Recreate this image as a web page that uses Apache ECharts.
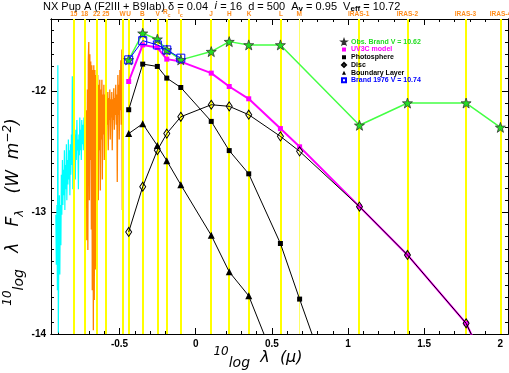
<!DOCTYPE html>
<html>
<head>
<meta charset="utf-8">
<script src="https://cdn.jsdelivr.net/npm/echarts@6/dist/echarts.min.js"></script>
<style>
html, body { margin: 0; padding: 0; background: #fff; }
#chart { width: 509px; height: 373px; }
</style>
</head>
<body>
<div id="chart"></div>
<script>
// filter bands, log10 of wavelength in micron
const bandNames = ['15', '18', '22', '25', 'W', 'U', 'B', 'V', 'Rc', 'Ic', 'J', 'H', 'K', 'L', 'M', 'IRAS-1', 'IRAS-2', 'IRAS-3', 'IRAS-4'];
const bandLogLam = [-0.80, -0.735, -0.645, -0.595, -0.48, -0.44, -0.348, -0.252, -0.19, -0.098, 0.102, 0.22, 0.348, 0.556, 0.682, 1.075, 1.39, 1.775, 2.0];

// SED points (log lambda F_lambda, W m-2), one per band below
const sedBands = ['U', 'B', 'V', 'Rc', 'Ic', 'J', 'H', 'K', 'L', 'M', 'IRAS-1', 'IRAS-2', 'IRAS-3', 'IRAS-4'];
const obsBrand = [-11.746, -11.527, -11.576, -11.664, -11.746, -11.678, -11.596, -11.623, -11.623, null, -12.284, -12.101, -12.101, -12.301];
const uv3cModel = [-11.924, -11.623, -11.645, -11.740, -11.760, -11.855, -11.965, -12.066, -12.311, -12.461, -12.953, -13.350, -13.912, -14.51];
const photosphere = [-12.156, -11.781, -11.800, -11.896, -11.973, -12.252, -12.492, -12.683, -13.256, -13.713, -15.1];
const disc = [-13.161, -12.789, -12.489, -12.352, -12.214, -12.115, -12.128, -12.197, -12.375, -12.498, -12.953, -13.350, -13.912, -14.51];
const boundaryLayer = [-12.352, -12.271, -12.451, -12.575, -12.773, -13.189, -13.489, -13.686, -14.34];
const brand1976 = [-11.746, -11.588, -11.623, -11.664, -11.732];

// IUE spectra [log lambda, log lambda F_lambda]
const iueShort = [
  [-0.918, -13.02], [-0.915, -13.43], [-0.911, -12.94], [-0.908, -13.64], [-0.905, -11.79], [-0.902, -13.99],
  [-0.898, -13.23], [-0.895, -12.86], [-0.892, -13.51], [-0.889, -12.94], [-0.885, -13.27], [-0.882, -12.69],
  [-0.879, -13.02], [-0.875, -12.57], [-0.872, -12.94], [-0.869, -12.65], [-0.866, -12.86], [-0.862, -12.49],
  [-0.859, -12.98], [-0.856, -12.61], [-0.852, -12.81], [-0.849, -12.44], [-0.846, -12.90], [-0.843, -12.57],
  [-0.839, -12.77], [-0.836, -12.40], [-0.833, -12.73], [-0.830, -12.49], [-0.826, -12.86], [-0.823, -12.44],
  [-0.820, -12.69], [-0.816, -12.36], [-0.813, -12.61], [-0.810, -11.88], [-0.807, -12.81], [-0.803, -12.49],
  [-0.800, -12.28], [-0.797, -12.65], [-0.793, -12.36], [-0.790, -12.73], [-0.787, -12.32], [-0.784, -12.57],
  [-0.780, -12.24], [-0.777, -12.49], [-0.774, -12.40], [-0.770, -12.81], [-0.767, -12.36], [-0.764, -12.53],
  [-0.761, -12.22], [-0.757, -12.49], [-0.754, -12.32], [-0.751, -12.57], [-0.748, -12.24], [-0.744, -12.44],
  [-0.741, -12.28], [-0.738, -12.49], [-0.734, -12.22], [-0.731, -12.40], [-0.728, -12.28], [-0.725, -12.53],
  [-0.721, -12.26], [-0.718, -12.40], [-0.715, -12.22], [-0.711, -12.36], [-0.708, -12.30], [-0.705, -12.40]
];
const iueLong = [
  [-0.728, -12.73], [-0.725, -12.32], [-0.721, -12.90], [-0.718, -12.16], [-0.715, -13.23], [-0.711, -11.99],
  [-0.708, -13.31], [-0.705, -11.75], [-0.702, -11.60], [-0.698, -12.90], [-0.695, -11.70], [-0.692, -12.57],
  [-0.689, -11.76], [-0.685, -13.14], [-0.682, -11.79], [-0.679, -13.64], [-0.675, -11.83], [-0.672, -13.97],
  [-0.669, -11.79], [-0.666, -13.72], [-0.662, -11.83], [-0.659, -13.47], [-0.656, -11.87], [-0.652, -12.82],
  [-0.649, -11.91], [-0.646, -12.65], [-0.643, -11.87], [-0.639, -12.90], [-0.636, -11.95], [-0.633, -12.49],
  [-0.630, -11.91], [-0.626, -12.82], [-0.623, -11.99], [-0.620, -12.40], [-0.616, -11.91], [-0.613, -12.73],
  [-0.610, -12.03], [-0.607, -12.36], [-0.603, -11.95], [-0.600, -12.57], [-0.597, -12.03], [-0.593, -12.32],
  [-0.590, -11.98], [-0.587, -12.61], [-0.584, -12.07], [-0.580, -12.28], [-0.577, -12.01], [-0.574, -12.49],
  [-0.570, -12.06], [-0.567, -12.24], [-0.564, -11.99], [-0.561, -12.40], [-0.557, -12.07], [-0.554, -12.22],
  [-0.551, -12.01], [-0.548, -12.49], [-0.544, -12.07], [-0.541, -12.24], [-0.538, -11.98], [-0.534, -12.32],
  [-0.531, -12.06], [-0.528, -12.20], [-0.525, -11.95], [-0.521, -12.28], [-0.518, -12.03], [-0.515, -12.75],
  [-0.511, -11.87], [-0.508, -12.20], [-0.505, -11.95], [-0.502, -12.40], [-0.498, -11.83], [-0.495, -12.16],
  [-0.492, -11.75], [-0.489, -12.28], [-0.485, -11.66], [-0.482, -12.98], [-0.479, -12.24]
];

// axis ticks
const xMajorTicks = [-0.5, 0, 0.5, 1, 1.5, 2];
const xMinorTicks = [-0.9, -0.8, -0.7, -0.6, -0.5, -0.4, -0.3, -0.2, -0.1, 0, 0.1, 0.2, 0.3, 0.4, 0.5, 0.6, 0.7, 0.8, 0.9, 1,
  1.1, 1.2, 1.3, 1.4, 1.5, 1.6, 1.7, 1.8, 1.9, 2];
const yMajorTicks = [-14, -13, -12];
const yMinorTicks = [-14, -13.9, -13.8, -13.7, -13.6, -13.5, -13.4, -13.3, -13.2, -13.1, -13, -12.9, -12.8, -12.7, -12.6,
  -12.5, -12.4, -12.3, -12.2, -12.1, -12, -11.9, -11.8, -11.7, -11.6, -11.5];

const STAR = 'path://M0,-10 L2.35,-3.24 L9.51,-3.09 L3.8,1.24 L5.88,8.09 L0,4 L-5.88,8.09 L-3.8,1.24 L-9.51,-3.09 L-2.35,-3.24 Z';
const TICK_FONT = 'Liberation Sans';
const NAME_FONT = 'DejaVu Sans';

const sed = vals => vals.map((v, i) => [bandLogLam[bandNames.indexOf(sedBands[i])], v]).filter(p => p[1] !== null);

const xAxisOf = (pos, ticks, len, labels) => ({
    type: 'value', position: pos, min: -0.95, max: 2.05,
    axisLine: { show: true, onZero: false, lineStyle: { color: '#000', width: 1 } },
    axisTick: { show: true, inside: true, length: len, customValues: ticks, lineStyle: { color: '#000' } },
    axisLabel: labels ? {
        show: true, customValues: labels, margin: 5, color: '#000',
        fontFamily: TICK_FONT, fontWeight: 'bold', fontSize: 10
    } : { show: false },
    splitLine: { show: false }
});
const yAxisOf = (pos, ticks, len, labels) => ({
    type: 'value', position: pos, min: -14, max: -11.41,
    axisLine: { show: true, onZero: false, lineStyle: { color: '#000', width: 1 } },
    axisTick: { show: true, inside: true, length: len, customValues: ticks, lineStyle: { color: '#000' } },
    axisLabel: labels ? {
        show: true, customValues: labels, margin: 5, color: '#000',
        fontFamily: TICK_FONT, fontWeight: 'bold', fontSize: 10
    } : { show: false },
    splitLine: { show: false }
});

const bandLines = bandNames.map((n, i) => {
    const sub = n === 'Rc' || n === 'Ic';
    return {
        xAxis: bandLogLam[i],
        name: n,
        lineStyle: n === 'M' ? { width: 1, color: '#ffff66' } : {},
        label: { formatter: sub ? n[0] + '{s|c}' : n }
    };
});

const nameRich = {
    s: { fontFamily: NAME_FONT, fontStyle: 'italic', fontSize: 12, lineHeight: 24, verticalAlign: 'top' },
    l: { fontFamily: NAME_FONT, fontStyle: 'italic', fontSize: 14, lineHeight: 24, verticalAlign: 'bottom' },
    b: { fontFamily: NAME_FONT, fontStyle: 'italic', fontSize: 12, lineHeight: 24, verticalAlign: 'bottom' }
};

const chart = echarts.init(document.getElementById('chart'));
const option = {
    animation: false,
    backgroundColor: '#fff',
    title: {
        left: 43, top: 0, padding: 0,
        text: 'NX Pup A (F2III + B9Iab) δ = 0.04  {i|i} = 16  d = 500  A{s|v} = 0.95  V{s|eff} = 10.72',
        textStyle: {
            fontFamily: TICK_FONT, fontSize: 11, fontWeight: 'normal', color: '#000', lineHeight: 13,
            rich: {
                i: { fontFamily: NAME_FONT, fontStyle: 'italic', fontSize: 11, lineHeight: 13 },
                s: { fontSize: 8, fontWeight: 'bold', lineHeight: 8, verticalAlign: 'bottom' }
            }
        }
    },
    grid: { left: 51, right: 1, top: 19, bottom: 39 },
    xAxis: [
        xAxisOf('bottom', xMinorTicks, 3, xMajorTicks),
        xAxisOf('bottom', xMajorTicks, 6, null),
        xAxisOf('top', xMinorTicks, 3, null),
        xAxisOf('top', xMajorTicks, 6, null)
    ],
    yAxis: [
        yAxisOf('left', yMinorTicks, 3, yMajorTicks),
        yAxisOf('left', yMajorTicks, 6, null),
        yAxisOf('right', yMinorTicks, 3, null),
        yAxisOf('right', yMajorTicks, 6, null)
    ],
    legend: {
        left: 336, top: 33, orient: 'vertical', itemGap: 0, itemWidth: 4, itemHeight: 4,
        selectedMode: false,
        textStyle: { fontFamily: TICK_FONT, fontSize: 7, fontWeight: 'bold', lineHeight: 7.7, color: '#000' },
        data: [
            { name: 'Obs. Brand V = 10.62', icon: STAR, textStyle: { color: '#22dd22' } },
            { name: 'UV3C model', icon: 'rect', textStyle: { color: '#ff00ff' } },
            { name: 'Photosphere', icon: 'rect' },
            { name: 'Disc', icon: 'diamond' },
            { name: 'Boundary Layer', icon: 'triangle' },
            { name: 'Brand 1976 V = 10.74', icon: 'rect', textStyle: { color: '#0000ff' } }
        ]
    },
    graphic: [
        {
            type: 'text', x: 258, y: 358,
            style: {
                text: '{s|10}{l|log}  λ  (μ)', align: 'center', verticalAlign: 'middle',
                fontFamily: NAME_FONT, fontStyle: 'italic', fontSize: 16, lineHeight: 24, fill: '#000',
                rich: nameRich
            }
        },
        {
            type: 'text', x: 14, y: 212, rotation: Math.PI / 2,
            style: {
                text: '{s|10}{l|log}   λ   F{b|λ}   (W  m{s|−2})', align: 'center', verticalAlign: 'middle',
                fontFamily: NAME_FONT, fontStyle: 'italic', fontSize: 17, lineHeight: 24, fill: '#000',
                rich: nameRich
            }
        }
    ],
    series: [
        {
            name: 'IUE SWP', type: 'line', data: iueShort, showSymbol: false, z: 1,
            lineStyle: { color: '#00ffff', width: 1.2 }, silent: true
        },
        {
            name: 'IUE LWR', type: 'line', data: iueLong, showSymbol: false, z: 1,
            lineStyle: { color: '#ff8000', width: 1.3 }, silent: true,
            markLine: {
                silent: true, symbol: 'none', z: 2, animation: false,
                lineStyle: { color: '#ffff00', width: 2, type: 'solid' },
                label: {
                    show: true, position: 'end', distance: 1, color: '#ff8c1a',
                    fontFamily: TICK_FONT, fontSize: 6.5, fontWeight: 'bold',
                    rich: { s: { fontSize: 5.5, fontWeight: 'bold', color: '#ff8c1a', padding: [5, 0, 0, 0] } }
                },
                data: bandLines
            }
        },
        {
            name: 'UV3C model', type: 'line', data: sed(uv3cModel), z: 3,
            symbol: 'rect', symbolSize: 5,
            lineStyle: { color: '#ff00ff', width: 2 }, itemStyle: { color: '#ff00ff' }
        },
        {
            name: 'Photosphere', type: 'line', data: sed(photosphere), z: 4,
            symbol: 'rect', symbolSize: 5,
            lineStyle: { color: '#000', width: 1 }, itemStyle: { color: '#000' }
        },
        {
            name: 'Disc', type: 'line', data: sed(disc), z: 4,
            symbol: 'diamond', symbolSize: [6, 9],
            lineStyle: { color: '#000', width: 1 },
            itemStyle: { color: 'rgba(0,0,0,0)', borderColor: '#000', borderWidth: 1 }
        },
        {
            name: 'Boundary Layer', type: 'line', data: sed(boundaryLayer), z: 4,
            symbol: 'triangle', symbolSize: 7,
            lineStyle: { color: '#000', width: 1 }, itemStyle: { color: '#000' }
        },
        {
            name: 'Obs. Brand V = 10.62', type: 'line', data: sed(obsBrand), z: 5,
            symbol: STAR, symbolSize: 10,
            lineStyle: { color: '#44ff44', width: 1.5 },
            itemStyle: { color: '#22dd22', borderColor: '#333', borderWidth: 0.8 }
        },
        {
            name: 'Brand 1976 V = 10.74', type: 'line', data: sed(brand1976), z: 6,
            symbol: 'rect', symbolSize: 8,
            lineStyle: { color: '#0000ff', width: 1 },
            itemStyle: { color: 'rgba(0,0,0,0)', borderColor: '#0000ff', borderWidth: 1 }
        }
    ]
};
chart.setOption(option);
</script>
</body>
</html>
